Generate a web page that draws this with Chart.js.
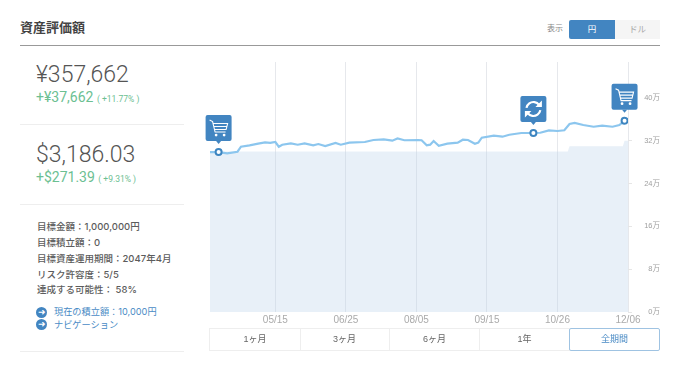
<!DOCTYPE html>
<html lang="ja">
<head>
<meta charset="utf-8">
<title>資産評価額</title>
<script src="https://cdn.jsdelivr.net/npm/chart.js@4"></script>
<style>
html, body { margin: 0; padding: 0; background: #fff; }
body { width: 680px; height: 366px; position: relative; overflow: hidden; font-family: "Liberation Sans", "Noto Sans CJK JP", sans-serif; color: #555; }
.abs { position: absolute; white-space: nowrap; line-height: 1; }
.rule { position: absolute; left: 20px; width: 164px; height: 1px; background: #eeeeee; }
.amount { left: 36px; font-family: Roboto, "Liberation Sans", sans-serif; font-weight: 300; font-size: 23px; color: #555; }
.gain { left: 36px; font-family: Roboto, "Liberation Sans", sans-serif; font-size: 14px; color: #6cc092; }
.gain small { font-size: 8.5px; }
.info { left: 37px; font-family: Inter, "Noto Sans CJK JP", sans-serif; font-size: 9.5px; color: #5c5c5c; font-weight: 500; }
.link { left: 54px; font-family: Inter, "Noto Sans CJK JP", sans-serif; font-size: 9.2px; color: #4a8bc5; }
.dot { position: absolute; left: 36px; width: 11px; height: 11px; border-radius: 50%; background: #4285c1; color: #fff; font-size: 9px; line-height: 10px; text-align: center; }
.range { position: absolute; top: 328px; height: 21px; line-height: 21px; border: 1px solid #eeeeee; border-left: none; text-align: center; font-size: 9px; color: #666; }
#wrap { position: absolute; left: 200px; top: 55px; width: 460px; height: 275px; }
</style>
</head>
<body>
<div class="abs" style="left:20px;top:21px;font-size:13px;font-weight:700;color:#444">資産評価額</div>
<div style="position:absolute;left:20px;top:45px;width:640px;height:1px;background:#999"></div>
<div class="abs" style="left:547px;top:25px;font-size:8px;color:#888">表示</div>
<div class="abs" style="left:569px;top:20px;width:46px;height:19px;line-height:19px;background:#4285c1;color:#fff;font-size:8.5px;text-align:center;border-radius:2px 0 0 2px">円</div>
<div class="abs" style="left:615px;top:20px;width:45px;height:19px;line-height:19px;background:#f5f5f5;color:#aaa;font-size:8.5px;text-align:center">ドル</div>

<div class="abs amount" style="top:63px">¥357,662</div>
<div class="abs gain" style="top:90px">+¥37,662 <small>( +11.77% )</small></div>
<div class="rule" style="top:124px"></div>
<div class="abs amount" style="top:143px">$3,186.03</div>
<div class="abs gain" style="top:170px">+$271.39 <small>( +9.31% )</small></div>
<div class="rule" style="top:204px"></div>

<div class="abs info" style="top:222px">目標金額：1,000,000円</div>
<div class="abs info" style="top:238px">目標積立額：0</div>
<div class="abs info" style="top:254px">目標資産運用期間：2047年4月</div>
<div class="abs info" style="top:270px">リスク許容度：5/5</div>
<div class="abs info" style="top:285px">達成する可能性： 58%</div>
<div class="dot" style="top:307px">➜</div>
<div class="abs link" style="top:307px">現在の積立額：10,000円</div>
<div class="dot" style="top:319px">➜</div>
<div class="abs link" style="top:320px">ナビゲーション</div>
<div class="rule" style="top:351px"></div>

<div id="wrap"><canvas id="chart"></canvas></div>

<div class="range" style="left:209px;width:90px;border-left:1px solid #eee">1ヶ月</div>
<div class="range" style="left:300px;width:89px">3ヶ月</div>
<div class="range" style="left:390px;width:89px">6ヶ月</div>
<div class="range" style="left:480px;width:89px">1年</div>
<div class="range" style="left:569px;width:89px;border:1px solid #9fc3e2;border-radius:2px;color:#4a8bc5">全期間</div>

<script>
// days counted from the left edge of the plot
let valueDays = [0, 5, 10, 16, 18, 23, 28, 32, 35, 38, 40, 42, 47, 51, 55, 60, 63, 67, 73, 76, 81, 90, 95, 101, 106, 109, 113, 121, 123, 126, 128, 130, 133, 138, 144, 147, 150, 154, 156, 158, 165, 170, 174, 181, 188, 192, 197, 202, 206, 209, 212, 217, 223, 228, 234, 238, 241];
let values = [29.9, 29.9, 29.66, 29.96, 30.9, 31.16, 31.46, 31.72, 31.6, 31.78, 30.9, 31.27, 31.53, 31.27, 31.53, 31.16, 31.4, 31.03, 31.6, 31.27, 31.65, 31.78, 32.15, 32.28, 32.02, 32.43, 32.1, 32.15, 32.1, 31.16, 31.27, 31.96, 31.08, 31.46, 31.65, 32.2, 32.15, 31.46, 31.65, 32.58, 32.95, 32.77, 33.14, 33.46, 33.46, 33.5, 33.96, 33.83, 33.96, 35.14, 35.33, 34.95, 34.63, 34.82, 34.63, 34.95, 35.77];
let costDays = [0, 208, 209, 240, 241, 243];
let costs = [30, 30, 31, 31, 32, 32];
let markerDays = [5, 188, 241];
let markerValues = [29.9, 33.46, 35.77];
let markerIcons = ["cart", "refresh", "cart"];
let xTickDays = [38, 79, 120, 161, 202, 243];
let xTickLabels = ["05/15", "06/25", "08/05", "09/15", "10/26", "12/06"];
let yTicks = [0, 8, 16, 24, 32, 40];

function toPoints(xs, ys) {
    return xs.map(function (x, i) { return { x: x, y: ys[i] }; });
}

function drawCart(ctx, cx, cy) {
    ctx.strokeStyle = "#fff";
    ctx.fillStyle = "#fff";
    ctx.lineWidth = 1.1;
    ctx.beginPath();
    ctx.moveTo(cx - 9, cy - 8);
    ctx.lineTo(cx - 6, cy - 6.5);
    ctx.lineTo(cx - 3.5, cy + 4);
    ctx.lineTo(cx + 7, cy + 4);
    ctx.moveTo(cx - 5.5, cy - 4.5);
    ctx.lineTo(cx + 9, cy - 4.5);
    ctx.lineTo(cx + 7.5, cy + 1.5);
    ctx.lineTo(cx - 4, cy + 1.5);
    ctx.moveTo(cx - 5, cy - 1.5);
    ctx.lineTo(cx + 8, cy - 1.5);
    ctx.stroke();
    ctx.beginPath();
    ctx.arc(cx - 2.5, cy + 7, 1.4, 0, Math.PI * 2);
    ctx.arc(cx + 5.5, cy + 7, 1.4, 0, Math.PI * 2);
    ctx.fill();
}

function drawRefresh(ctx, cx, cy) {
    ctx.strokeStyle = "#fff";
    ctx.fillStyle = "#fff";
    ctx.lineWidth = 2.2;
    ctx.beginPath();
    ctx.arc(cx, cy, 7, Math.PI * 1.05, Math.PI * 1.8);
    ctx.stroke();
    ctx.beginPath();
    ctx.arc(cx, cy, 7, Math.PI * 0.05, Math.PI * 0.8);
    ctx.stroke();
    ctx.beginPath();
    ctx.moveTo(cx + 8.5, cy - 8.5);
    ctx.lineTo(cx + 8.5, cy - 2);
    ctx.lineTo(cx + 2, cy - 2);
    ctx.closePath();
    ctx.moveTo(cx - 8.5, cy + 8.5);
    ctx.lineTo(cx - 8.5, cy + 2);
    ctx.lineTo(cx - 2, cy + 2);
    ctx.closePath();
    ctx.fill();
}

// flags above the markers
const flagPlugin = {
    id: "flags",
    afterDatasetsDraw(chart) {
        let ctx = chart.ctx;
        ctx.save();
        markerDays.forEach(function (d, i) {
            let px = chart.scales.x.getPixelForValue(d);
            let py = chart.scales.y.getPixelForValue(markerValues[i]);
            let top = py - 37;
            ctx.fillStyle = "#4285c1";
            ctx.beginPath();
            ctx.roundRect(px - 13, top, 26, 26, 2);
            ctx.fill();
            ctx.beginPath();
            ctx.moveTo(px - 2.5, top + 26);
            ctx.lineTo(px, top + 29);
            ctx.lineTo(px + 2.5, top + 26);
            ctx.fill();
            if (markerIcons[i] == "cart") {
                drawCart(ctx, px, top + 13);
            } else {
                drawRefresh(ctx, px, top + 13);
            }
        });
        ctx.restore();
    }
};

new Chart(document.getElementById("chart"), {
    type: "line",
    plugins: [flagPlugin],
    data: {
        datasets: [{
            data: toPoints(markerDays, markerValues),
            showLine: false,
            pointRadius: 3,
            pointBorderWidth: 2,
            pointBackgroundColor: "#fff",
            pointBorderColor: "#3d85c0",
            order: 0
        }, {
            data: toPoints(valueDays, values),
            borderColor: "#8cc6ee",
            borderWidth: 2.2,
            pointRadius: 0,
            tension: 0,
            fill: false,
            order: 1
        }, {
            data: toPoints(costDays, costs),
            borderWidth: 0,
            pointRadius: 0,
            tension: 0,
            fill: "origin",
            backgroundColor: "rgba(190,213,235,0.35)",
            order: 2
        }]
    },
    options: {
        responsive: true,
        maintainAspectRatio: false,
        animation: false,
        layout: { padding: { left: 10, top: 7, right: 0, bottom: 0 } },
        plugins: { legend: { display: false }, tooltip: { enabled: false } },
        scales: {
            x: {
                type: "linear",
                min: 0,
                max: 243,
                afterBuildTicks: function (axis) {
                    axis.ticks = xTickDays.map(function (d) { return { value: d }; });
                },
                afterFit: function (axis) { axis.height = 18; },
                grid: { color: "#e6e8ec", drawTicks: false },
                border: { display: false },
                ticks: {
                    autoSkip: false,
                    maxRotation: 0,
                    padding: 2,
                    color: "#aaaaaa",
                    font: { size: 10, family: "Liberation Sans" },
                    callback: function (v) { return xTickLabels[xTickDays.indexOf(v)]; }
                }
            },
            y: {
                position: "right",
                min: 0,
                max: 46.73,
                afterBuildTicks: function (axis) {
                    axis.ticks = yTicks.map(function (v) { return { value: v }; });
                },
                afterFit: function (axis) { axis.width = 32; },
                grid: { drawOnChartArea: false, color: "#e6e6e6", tickLength: 4 },
                border: { display: false },
                ticks: {
                    crossAlign: "far",
                    padding: 0,
                    color: "#a0a0a0",
                    font: { size: 7.5, family: "Liberation Sans, Noto Sans CJK JP" },
                    callback: function (v) { return v + "万"; }
                }
            }
        }
    }
});
</script>
</body>
</html>
